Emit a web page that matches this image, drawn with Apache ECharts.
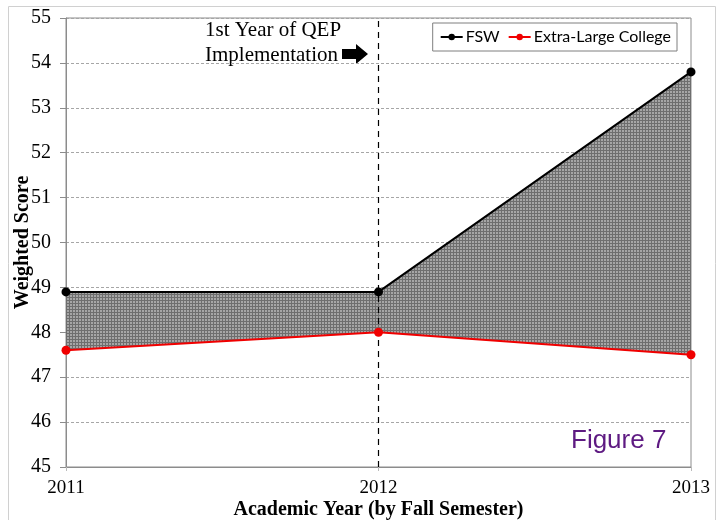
<!DOCTYPE html>
<html>
<head>
<meta charset="utf-8">
<script src="https://cdn.jsdelivr.net/npm/echarts@6/dist/echarts.min.js"></script>
<style>
  html, body { margin: 0; padding: 0; background: #fff; }
  #chart { width: 724px; height: 520px; }
</style>
</head>
<body>
<div id="chart"></div>
<script>
// data
const years = ['2011', '2012', '2013']
const fswScores = [48.9, 48.9, 53.8]
const xlCollegeScores = [47.6, 48.0, 47.5]

// band between the two lines (stacked on the lower series)
const bandHeight = fswScores.map((v, i) => +(v - xlCollegeScores[i]).toFixed(2))

// dotted grey fill like the original
const makePattern = () => {
  const c = document.createElement('canvas')
  c.width = 3
  c.height = 3
  const ctx = c.getContext('2d')
  ctx.fillStyle = '#a6a6a6'
  ctx.fillRect(0, 0, 3, 3)
  ctx.fillStyle = '#6e6e6e'
  ctx.fillRect(0, 0, 3, 1)
  ctx.fillRect(0, 0, 1, 3)
  return c
}

const chart = echarts.init(document.getElementById('chart'))
const serif = '"Liberation Serif", "Times New Roman", serif'

const option = {
  animation: false,
  grid: {
    left: 66,
    right: 33,
    top: 18,
    bottom: 53,
    outerBoundsMode: 'none',
    containLabel: false,
    show: true,
    borderColor: '#8c8c8c',
    borderWidth: 1
  },
  legend: {
    data: ['FSW', 'Extra-Large College'],
    right: 47,
    top: 23,
    padding: [6, 6, 6, 7],
    itemGap: 8,
    itemWidth: 22,
    itemHeight: 8,
    borderColor: '#7f7f7f',
    borderWidth: 1,
    backgroundColor: '#fff',
    textStyle: { fontFamily: 'Lato, "Noto Sans", sans-serif', fontSize: 16, color: '#000', padding: [0, 0, 0, -2] }
  },
  xAxis: {
    type: 'category',
    boundaryGap: false,
    data: years,
    name: 'Academic Year (by Fall Semester)',
    nameLocation: 'middle',
    nameGap: 33,
    nameMoveOverlap: false,
    nameTextStyle: { fontFamily: serif, fontSize: 20, fontWeight: 'bold', color: '#000' },
    axisLine: { lineStyle: { color: '#8c8c8c' } },
    axisTick: { show: true, length: 4, lineStyle: { color: '#bbb' } },
    axisLabel: { fontFamily: serif, fontSize: 19, color: '#000', margin: 12 },
    splitLine: { show: false }
  },
  yAxis: {
    type: 'value',
    min: 45,
    max: 55,
    interval: 1,
    name: 'Weighted Score',
    nameLocation: 'middle',
    nameGap: 33,
    nameMoveOverlap: false,
    nameTextStyle: { fontFamily: serif, fontSize: 20, fontWeight: 'bold', color: '#000' },
    axisLine: { show: true, lineStyle: { color: '#8c8c8c' } },
    axisTick: { show: true, length: 6, lineStyle: { color: '#8c8c8c' } },
    axisLabel: { fontFamily: serif, fontSize: 20, color: '#000', margin: 15 },
    splitLine: { show: true, lineStyle: { color: '#a6a6a6', type: [3, 2] } }
  },
  series: [
    {
      name: 'base',
      type: 'line',
      stack: 'band',
      data: xlCollegeScores,
      symbol: 'none',
      lineStyle: { opacity: 0 },
      silent: true
    },
    {
      name: 'band',
      type: 'line',
      stack: 'band',
      data: bandHeight,
      symbol: 'none',
      lineStyle: { opacity: 0 },
      areaStyle: { color: { image: makePattern(), repeat: 'repeat' }, opacity: 1 },
      silent: true
    },
    {
      name: 'FSW',
      type: 'line',
      data: fswScores,
      symbol: 'circle',
      symbolSize: 9,
      z: 5,
      itemStyle: { color: '#000' },
      lineStyle: { color: '#000', width: 2 },
      markLine: {
        silent: true,
        symbol: 'none',
        label: { show: false },
        lineStyle: { color: '#000', type: [6, 5], width: 1.2 },
        data: [{ xAxis: '2012' }]
      }
    },
    {
      name: 'Extra-Large College',
      type: 'line',
      data: xlCollegeScores,
      symbol: 'circle',
      symbolSize: 9,
      z: 5,
      itemStyle: { color: '#f00000' },
      lineStyle: { color: '#f00000', width: 2 }
    }
  ],
  graphic: [
    {
      type: 'rect',
      silent: true,
      shape: { x: 8.5, y: 6.5, width: 707, height: 530 },
      style: { fill: 'none', stroke: '#d0d0d0', lineWidth: 1 }
    },
    {
      type: 'text',
      left: 205,
      top: 18,
      style: {
        text: '1st Year of QEP\nImplementation',
        font: '21px "Liberation Serif", serif',
        fill: '#000',
        lineHeight: 25
      }
    },
    {
      type: 'polygon',
      silent: true,
      shape: { points: [[342, 49], [356, 49], [356, 44], [368, 54], [356, 64], [356, 59], [342, 59]] },
      style: { fill: '#000' }
    },
    {
      type: 'text',
      left: 571,
      top: 428,
      style: { text: 'Figure 7', font: '26px "Liberation Sans", Arial, sans-serif', fill: '#5e1a82' }
    }
  ]
}

chart.setOption(option)
</script>
</body>
</html>
